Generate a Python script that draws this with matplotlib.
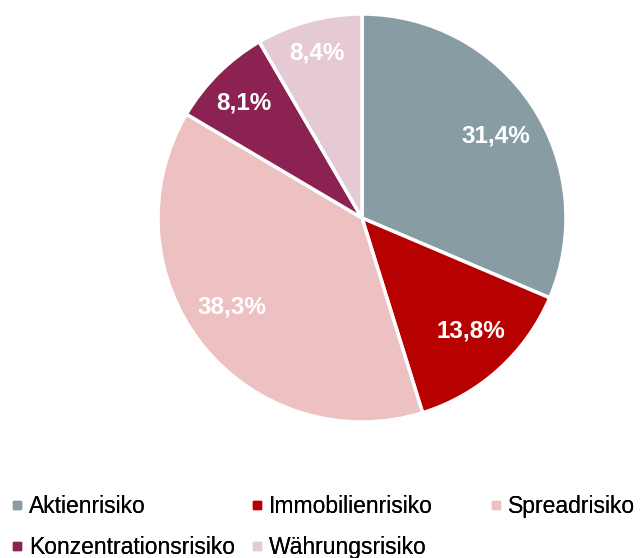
import numpy as np
import matplotlib
matplotlib.use("Agg")
import matplotlib.pyplot as plt
from matplotlib.lines import Line2D

plt.rcParams['font.family'] = ['Liberation Sans', 'DejaVu Sans']

categories = ["Aktienrisiko", "Immobilienrisiko", "Spreadrisiko",
              "Konzentrationsrisiko", "Währungsrisiko"]
values = [31.4, 13.8, 38.3, 8.1, 8.4]
labels = ["31,4%", "13,8%", "38,3%", "8,1%", "8,4%"]
colors = ["#889CA3", "#B70000", "#EDC0C2", "#8C2252", "#E5CAD5"]
label_radius = [0.77, 0.77, 0.77, 0.81, 0.84]
label_shift = [-2, 2, -4, 1, 0]

W, H = 643, 558
fig = plt.figure(figsize=(W / 100, H / 100), dpi=100)
cx, cy, r = 362, 218, 204
ax = fig.add_axes([(cx - r) / W, (H - cy - r) / H, 2 * r / W, 2 * r / H])
wedges, _ = ax.pie(values, colors=colors, startangle=90, counterclock=False,
                   radius=1.0, wedgeprops=dict(edgecolor="white", linewidth=2.5))
ax.set_xlim(-1, 1)
ax.set_ylim(-1, 1)
ax.set_aspect("equal")
ax.axis("off")

for w, lab, rr, sh in zip(wedges, labels, label_radius, label_shift):
    ang = np.deg2rad((w.theta1 + w.theta2) / 2 + sh)
    ax.text(rr * np.cos(ang), rr * np.sin(ang), lab, ha="center", va="center",
            color="white", fontsize=17.5, fontweight="bold")

def handle(c):
    return Line2D([], [], linestyle="none", marker="s", markersize=6,
                  markerfacecolor=c, markeredgecolor=c)

groups = [([0, 3], 11), ([1, 4], 251), ([2], 490)]
for idx, x0 in groups:
    leg = fig.legend([handle(colors[i]) for i in idx], [categories[i] for i in idx],
                     loc="upper left", bbox_to_anchor=(x0 / W, 1 - 495 / H),
                     frameon=False, fontsize=16.5, handlelength=0.5,
                     handletextpad=0.3, labelspacing=0.78, borderpad=0,
                     borderaxespad=0)
    fig.add_artist(leg)

fig.savefig("out.png", dpi=100)
